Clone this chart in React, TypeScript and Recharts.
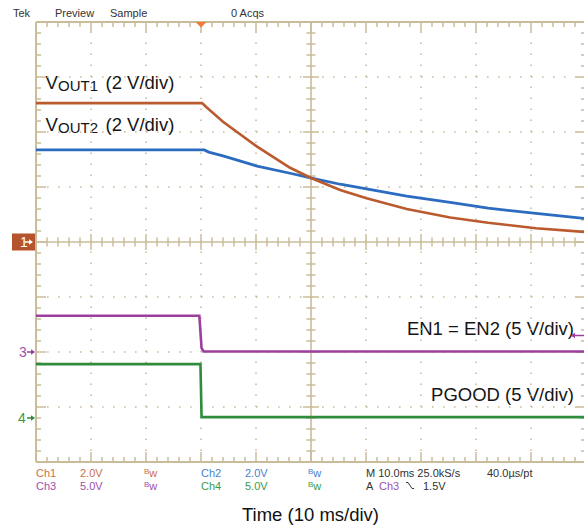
import React from 'react';
import { ComposedChart, Line, XAxis, YAxis, ReferenceLine, ReferenceDot } from 'recharts';

// ---- axes (oscilloscope screen) ----
const timeDomain: [number, number] = [0, 100]; // ms, 10 ms/div
const divDomain: [number, number] = [0, 8]; // vertical divisions
const ch12Domain: [number, number] = [-8, 8]; // 2 V/div, ground at centre
const ch3Domain: [number, number] = [-10, 30]; // 5 V/div
const ch4Domain: [number, number] = [-4, 36]; // 5 V/div

// ---- series (time in ms, value in V) ----
const vout1Time = [0, 30.2, 31, 34, 40.2, 46.2, 50.1, 55.3, 60.1, 67.4, 75.3, 82.2, 90.9, 99.6, 100];
const vout1Volts = [5.05, 5.05, 4.9, 4.37, 3.47, 2.7, 2.32, 1.89, 1.59, 1.2, 0.89, 0.7, 0.5, 0.37, 0.37];

const vout2Time = [0, 30.6, 31.4, 34, 40.2, 46.2, 50.1, 55.3, 60.1, 67.4, 75.3, 82.2, 90.9, 99.6, 100];
const vout2Volts = [3.35, 3.35, 3.27, 3.13, 2.76, 2.5, 2.32, 2.1, 1.93, 1.67, 1.44, 1.23, 1.04, 0.86, 0.86];

const enTime = [0, 29.7, 30.1, 30.5, 100];
const enVolts = [3.3, 3.3, 0.35, 0.05, 0.05];

const pgoodTime = [0, 29.9, 30.1, 100];
const pgoodVolts = [4.9, 4.9, 0.08, 0.08];

const triggerTime = 30;
const triggerLevel = 1.5;

// ---- grid definitions ----
const majorTimes = [10, 20, 30, 40, 60, 70, 80, 90];
const majorDivs = [1, 2, 3, 5, 6, 7];
const minorTimes = Array.from({ length: 49 }, (_, i) => (i + 1) * 2);
const minorDivs = Array.from({ length: 39 }, (_, i) => Math.round((i + 1) * 2) / 10);

// ---- colours ----
const GRID = '#C9BC98';
const C1 = '#BA5A2E';
const C2 = '#2C6CC0';
const C3 = '#9C3E9E';
const C4 = '#2F8C3C';
const T1 = '#C8704C';
const T2 = '#4A80CE';
const T3 = '#A050AC';
const T4 = '#3C9A4A';
const DARK = '#333333';
const FONT = '"Liberation Sans", Arial, Helvetica, sans-serif';

const PX_T = 100 / 550;
const PX_D = 8 / 440;

const toSeries = (ts: number[], vs: number[]) => ts.map((t, i) => ({ t, v: vs[i] }));
const vout1 = toSeries(vout1Time, vout1Volts);
const vout2 = toSeries(vout2Time, vout2Volts);
const en = toSeries(enTime, enVolts);
const pgood = toSeries(pgoodTime, pgoodVolts);

const isMajorT = (t: number) => t % 10 === 0;
const isMajorD = (d: number) => Math.abs(d - Math.round(d)) < 1e-6;

function gridLines() {
  const out: React.ReactNode[] = [];
  const common = { xAxisId: 't', yAxisId: 'div', ifOverflow: 'visible' as const };
  majorTimes.forEach((t) =>
    out.push(<ReferenceLine key={`gv${t}`} {...common} x={t} stroke={GRID} strokeWidth={1.6} strokeDasharray="1.6 9.4" />)
  );
  majorDivs.forEach((d) =>
    out.push(<ReferenceLine key={`gh${d}`} {...common} y={d} stroke={GRID} strokeWidth={1.6} strokeDasharray="1.6 9.4" />)
  );
  // centre lines
  out.push(<ReferenceLine key="cx" {...common} x={50} stroke={GRID} strokeWidth={1.6} />);
  out.push(<ReferenceLine key="cy" {...common} y={4} stroke={GRID} strokeWidth={1.6} />);
  // border
  out.push(<ReferenceLine key="b0" {...common} x={0} stroke={GRID} strokeWidth={2} />);
  out.push(<ReferenceLine key="b1" {...common} x={100} stroke={GRID} strokeWidth={2} />);
  out.push(<ReferenceLine key="b2" {...common} y={0} stroke={GRID} strokeWidth={2} />);
  out.push(<ReferenceLine key="b3" {...common} y={8} stroke={GRID} strokeWidth={2} />);
  // border ticks + centre ticks along time
  minorTimes.forEach((t) => {
    const len = isMajorT(t) ? 10 : 5;
    out.push(
      <ReferenceLine key={`tt${t}`} {...common} stroke={GRID} strokeWidth={1.5}
        segment={[{ x: t, y: 8 }, { x: t, y: 8 - len * PX_D }]} />
    );
    out.push(
      <ReferenceLine key={`tb${t}`} {...common} stroke={GRID} strokeWidth={1.5}
        segment={[{ x: t, y: 0 }, { x: t, y: len * PX_D }]} />
    );
    if (t !== 50) {
      const l = isMajorT(t) ? 8 : 4.5;
      out.push(
        <ReferenceLine key={`tc${t}`} {...common} stroke={GRID} strokeWidth={1.5}
          segment={[{ x: t, y: 4 - l * PX_D }, { x: t, y: 4 + l * PX_D }]} />
      );
    }
  });
  minorDivs.forEach((d) => {
    const len = isMajorD(d) ? 10 : 5;
    out.push(
      <ReferenceLine key={`dl${d}`} {...common} stroke={GRID} strokeWidth={1.5}
        segment={[{ x: 0, y: d }, { x: len * PX_T, y: d }]} />
    );
    out.push(
      <ReferenceLine key={`dr${d}`} {...common} stroke={GRID} strokeWidth={1.5}
        segment={[{ x: 100, y: d }, { x: 100 - len * PX_T, y: d }]} />
    );
    if (Math.abs(d - 4) > 1e-6) {
      const l = isMajorD(d) ? 8 : 4.5;
      out.push(
        <ReferenceLine key={`dc${d}`} {...common} stroke={GRID} strokeWidth={1.5}
          segment={[{ x: 50 - l * PX_T, y: d }, { x: 50 + l * PX_T, y: d }]} />
      );
    }
  });
  return out;
}

const RightArrow = ({ x, y, color }: { x: number; y: number; color: string }) => (
  <g>
    <line x1={x - 8} y1={y} x2={x - 1} y2={y} stroke={color} strokeWidth={1.5} />
    <path d={`M${x} ${y} L${x - 4} ${y - 2.8} L${x - 4} ${y + 2.8} Z`} fill={color} />
  </g>
);

const Ch1Marker = (p: any) => (
  <g>
    <rect x={p.cx - 24} y={p.cy - 8.5} width={23} height={17} fill="#B5532C" />
    <text x={p.cx - 16} y={p.cy + 5} fill="#fff" fontSize={14} fontFamily={FONT}>1</text>
    <RightArrow x={p.cx - 3} y={p.cy} color="#fff" />
  </g>
);
const Ch3Marker = (p: any) => (
  <g>
    <text x={p.cx - 17} y={p.cy + 5} fill={T3} fontSize={14} fontFamily={FONT}>3</text>
    <RightArrow x={p.cx - 1} y={p.cy} color={C3} />
  </g>
);
const Ch4Marker = (p: any) => (
  <g>
    <text x={p.cx - 18} y={p.cy + 5} fill={T4} fontSize={14} fontFamily={FONT}>4</text>
    <RightArrow x={p.cx - 1} y={p.cy} color={C4} />
  </g>
);
const TrigTimeMarker = (p: any) => (
  <path d={`M${p.cx - 5.5} ${p.cy} L${p.cx + 5.5} ${p.cy} L${p.cx} ${p.cy + 5.5} Z`} fill="#F07A3A" />
);
const TrigLevelMarker = (p: any) => (
  <g>
    <line x1={p.cx - 14} y1={p.cy} x2={p.cx - 2} y2={p.cy} stroke={C3} strokeWidth={1.5} />
    <path d={`M${p.cx - 15} ${p.cy} L${p.cx - 11} ${p.cy - 2.8} L${p.cx - 11} ${p.cy + 2.8} Z`} fill={C3} />
  </g>
);

const Bw = ({ x, y, color }: { x: number; y: number; color: string }) => (
  <text x={x} y={y} fill={color} fontFamily={FONT} fontSize={11}>
    <tspan fontSize={8} dy={-3}>B</tspan>
    <tspan dy={3}>w</tspan>
  </text>
);

const St = ({ x, y, color, children }: { x: number; y: number; color: string; children: React.ReactNode }) => (
  <text x={x} y={y} fill={color} fontFamily={FONT} fontSize={11}>{children}</text>
);

const Annotations = () => (
  <g>
    {/* header */}
    <St x={13} y={16.5} color={DARK}>Tek</St>
    <St x={55} y={16.5} color={DARK}>Preview</St>
    <St x={110} y={16.5} color={DARK}>Sample</St>
    <St x={231} y={16.5} color={DARK}>0 Acqs</St>

    {/* trace labels */}
    <text fontFamily={FONT} fill="#151515">
      <tspan x={45.5} y={88.5} fontSize={18.5}>V</tspan>
      <tspan x={58} y={90.7} fontSize={15}>OUT1</tspan>
      <tspan x={105.5} y={88.5} fontSize={18.5}>(2 V/div)</tspan>
    </text>
    <text fontFamily={FONT} fill="#151515">
      <tspan x={45.5} y={130.5} fontSize={18.5}>V</tspan>
      <tspan x={58} y={132.8} fontSize={15}>OUT2</tspan>
      <tspan x={105.5} y={130.5} fontSize={18.5}>(2 V/div)</tspan>
    </text>
    <text x={574} y={335} textAnchor="end" fontFamily={FONT} fontSize={18.5} fill="#151515">EN1 = EN2 (5 V/div)</text>
    <text x={574} y={400.7} textAnchor="end" fontFamily={FONT} fontSize={18.5} fill="#151515">PGOOD (5 V/div)</text>

    {/* status rows */}
    <St x={36} y={477} color={T1}>Ch1</St>
    <St x={80} y={477} color={T1}>2.0V</St>
    <Bw x={144} y={477} color={T1} />
    <St x={201} y={477} color={T2}>Ch2</St>
    <St x={245} y={477} color={T2}>2.0V</St>
    <Bw x={308} y={477} color={T2} />
    <St x={366} y={477} color={DARK}>M 10.0ms 25.0kS/s</St>
    <St x={487} y={477} color={DARK}>40.0µs/pt</St>

    <St x={36} y={490} color={T3}>Ch3</St>
    <St x={80} y={490} color={T3}>5.0V</St>
    <Bw x={144} y={490} color={T3} />
    <St x={201} y={490} color={T4}>Ch4</St>
    <St x={245} y={490} color={T4}>5.0V</St>
    <Bw x={308} y={490} color={T4} />
    <St x={366} y={490} color={DARK}>A</St>
    <St x={379} y={490} color={T3}>Ch3</St>
    <polyline points="406,482.5 408,482.5 412,488.5 414,488.5" fill="none" stroke={DARK} strokeWidth={1} />
    <St x={423} y={490} color={DARK}>1.5V</St>

    {/* axis title */}
    <text x={310.5} y={520.7} textAnchor="middle" fontFamily={FONT} fontSize={18.5} fill="#111">Time (10 ms/div)</text>
  </g>
);

export default function App() {
  return (
    <div style={{ position: 'fixed', left: 0, top: 0, width: 584, height: 532, overflow: 'hidden', background: '#fff' }}>
      <ComposedChart width={600} height={532} margin={{ top: 22, right: 14, bottom: 70, left: 36 }}>
        <XAxis xAxisId="t" type="number" dataKey="t" domain={timeDomain} hide allowDataOverflow />
        <YAxis yAxisId="div" type="number" domain={divDomain} hide allowDataOverflow />
        <YAxis yAxisId="ch12" type="number" domain={ch12Domain} hide allowDataOverflow />
        <YAxis yAxisId="ch3" type="number" domain={ch3Domain} hide allowDataOverflow />
        <YAxis yAxisId="ch4" type="number" domain={ch4Domain} hide allowDataOverflow />
        {gridLines()}
        <Line data={pgood} dataKey="v" xAxisId="t" yAxisId="ch4" type="linear" dot={false} stroke={C4} strokeWidth={2.6} isAnimationActive={false} />
        <Line data={en} dataKey="v" xAxisId="t" yAxisId="ch3" type="linear" dot={false} stroke={C3} strokeWidth={2.6} isAnimationActive={false} />
        <Line data={vout2} dataKey="v" xAxisId="t" yAxisId="ch12" type="linear" dot={false} stroke={C2} strokeWidth={2.8} isAnimationActive={false} />
        <Line data={vout1} dataKey="v" xAxisId="t" yAxisId="ch12" type="linear" dot={false} stroke={C1} strokeWidth={2.6} isAnimationActive={false} />
        <ReferenceDot xAxisId="t" yAxisId="ch12" x={0} y={0} ifOverflow="visible" shape={Ch1Marker} />
        <ReferenceDot xAxisId="t" yAxisId="ch3" x={0} y={0} ifOverflow="visible" shape={Ch3Marker} />
        <ReferenceDot xAxisId="t" yAxisId="ch4" x={0} y={0} ifOverflow="visible" shape={Ch4Marker} />
        <ReferenceDot xAxisId="t" yAxisId="div" x={triggerTime} y={8} ifOverflow="visible" shape={TrigTimeMarker} />
        <ReferenceDot xAxisId="t" yAxisId="ch3" x={100} y={triggerLevel} ifOverflow="visible" shape={TrigLevelMarker} />
        <Annotations />
      </ComposedChart>
    </div>
  );
}
